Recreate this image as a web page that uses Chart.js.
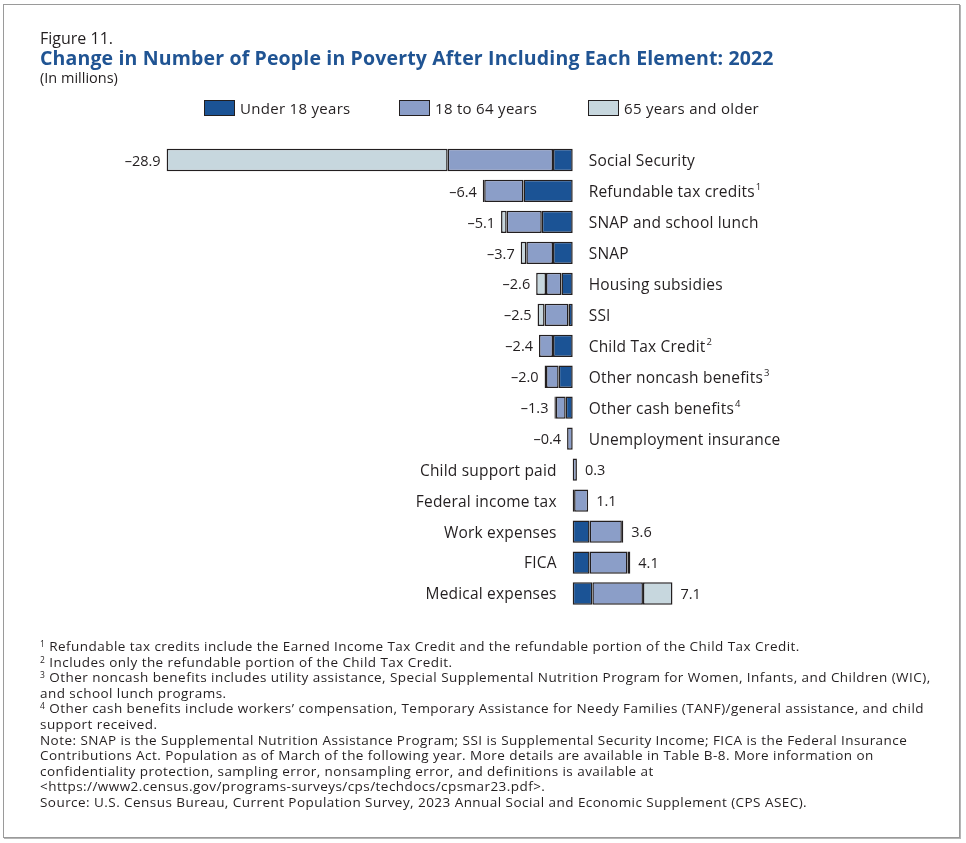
<!DOCTYPE html>
<html>
<head>
<meta charset="utf-8">
<script src="https://cdn.jsdelivr.net/npm/chart.js@4.4.1/dist/chart.umd.min.js"></script>
<style>
  html, body { margin: 0; padding: 0; background: #fff; }
  body { width: 966px; height: 843px; position: relative; overflow: hidden; font-family: "Open Sans", "Noto Sans", sans-serif; color: #231f20; }
  #frame { position: absolute; left: 3px; top: 4px; width: 957px; height: 834px; border: 1px solid #9a9a9a; box-shadow: 1px 1px 0 #b5b5b5; box-sizing: border-box; }
  #chart { position: absolute; left: 0; top: 0; }
  .t { position: absolute; white-space: nowrap; }
  #fig { left: 40px; top: 28px; font-size: 16px; line-height: 20px; }
  #title { left: 40px; top: 47px; font-size: 19.5px; line-height: 22px; font-weight: bold; color: #205493; letter-spacing: 0.15px; }
  #units { left: 40px; top: 69px; font-size: 14.5px; line-height: 18px; }
  #legend { position: absolute; left: 0; top: 100px; height: 16px; }
  .lg { position: absolute; top: 0; font-size: 15px; line-height: 16px; white-space: nowrap; letter-spacing: 0.3px; }
  .lg span.box { position: absolute; left: 0; top: 0; width: 29px; height: 14px; border: 1px solid #231f20; box-sizing: content-box; }
  .lg span.txt { position: absolute; left: 36px; top: 0; }
  #notes { position: absolute; left: 40px; top: 639px; width: 920px; font-size: 13.5px; line-height: 15.6px; letter-spacing: 0.45px; }
  #notes sup { font-size: 8.5px; vertical-align: 4px; line-height: 0; }
</style>
</head>
<body>
<div id="frame"></div>
<canvas id="chart" width="966" height="843"></canvas>
<div class="t" id="fig">Figure 11.</div>
<div class="t" id="title">Change in Number of People in Poverty After Including Each Element: 2022</div>
<div class="t" id="units">(In millions)</div>
<div id="legend"></div>
<div id="notes">
<div><sup>1</sup> Refundable tax credits include the Earned Income Tax Credit and the refundable portion of the Child Tax Credit.</div>
<div><sup>2</sup> Includes only the refundable portion of the Child Tax Credit.</div>
<div><sup>3</sup> Other noncash benefits includes utility assistance, Special Supplemental Nutrition Program for Women, Infants, and Children (WIC),<br>and school lunch programs.</div>
<div><sup>4</sup> Other cash benefits include workers’ compensation, Temporary Assistance for Needy Families (TANF)/general assistance, and child<br>support received.</div>
<div>Note: SNAP is the Supplemental Nutrition Assistance Program; SSI is Supplemental Security Income; FICA is the Federal Insurance<br>Contributions Act. Population as of March of the following year. More details are available in Table B-8. More information on<br>confidentiality protection, sampling error, nonsampling error, and definitions is available at<br>&lt;https://www2.census.gov/programs-surveys/cps/techdocs/cpsmar23.pdf&gt;.</div>
<div>Source: U.S. Census Bureau, Current Population Survey, 2023 Annual Social and Economic Supplement (CPS ASEC).</div>
</div>
<script>
// ---- Data (millions) ----
const categories = ["Social Security", "Refundable tax credits", "SNAP and school lunch", "SNAP", "Housing subsidies", "SSI", "Child Tax Credit", "Other noncash benefits", "Other cash benefits", "Unemployment insurance", "Child support paid", "Federal income tax", "Work expenses", "FICA", "Medical expenses"];
const noteMarks = ["", "1", "", "", "", "", "2", "3", "4", "", "", "", "", "", ""];
const totals = [-28.9, -6.4, -5.1, -3.7, -2.6, -2.5, -2.4, -2.0, -1.3, -0.4, 0.3, 1.1, 3.6, 4.1, 7.1];
const under18 = [-1.4, -3.5, -2.2, -1.4, -0.8, -0.3, -1.4, -1.0, -0.5, 0, 0, 0.1, 1.2, 1.2, 1.4];
const age18to64 = [-7.5, -2.8, -2.5, -1.9, -1.1, -1.7, -1.0, -0.9, -0.7, -0.4, 0.3, 1.0, 2.3, 2.7, 3.6];
const age65plus = [-20.0, -0.1, -0.4, -0.4, -0.7, -0.5, 0, -0.1, -0.1, 0, 0, 0, 0.1, 0.2, 2.1];
const seriesNames = ["Under 18 years", "18 to 64 years", "65 years and older"];
const seriesColors = ["#1b5395", "#8b9ec8", "#c7d7de"];

const FONT = '"Open Sans", "Noto Sans", sans-serif';

// ---- Legend (HTML) ----
const legendX = [204, 399, 588];
const legend = document.getElementById('legend');
seriesNames.forEach((n, i) => {
  const d = document.createElement('div');
  d.className = 'lg';
  d.style.left = legendX[i] + 'px';
  d.innerHTML = '<span class="box" style="background:' + seriesColors[i] + '"></span><span class="txt">' + n + '</span>';
  legend.appendChild(d);
});

const labelPlugin = {
  id: 'rowLabels',
  afterDatasetsDraw(chart) {
    const ctx = chart.ctx;
    const xs = chart.scales.x, ys = chart.scales.y;
    const zero = xs.getPixelForValue(0);
    ctx.save();
    ctx.fillStyle = '#231f20';
    ctx.textBaseline = 'middle';
    categories.forEach((cat, i) => {
      const yc = ys.getPixelForValue(i) + 1.5;
      let neg = 0, pos = 0;
      [under18, age18to64, age65plus].forEach(s => { if (s[i] < 0) neg += s[i]; else pos += s[i]; });
      const t = totals[i];
      const valTxt = (t < 0 ? '\u2013' : '') + Math.abs(t).toFixed(1);
      ctx.letterSpacing = '0.2px';
      ctx.font = '15.5px ' + FONT;
      let catX, catW = ctx.measureText(cat).width;
      let noteW = 0;
      ctx.letterSpacing = '0px';
      if (noteMarks[i]) { ctx.font = '9.5px ' + FONT; noteW = ctx.measureText(noteMarks[i]).width + 1; }
      ctx.font = '14.5px ' + FONT;
      if (t < 0) {
        catX = zero + 16;
        const endPx = xs.getPixelForValue(neg);
        ctx.textAlign = 'right';
        ctx.fillText(valTxt, endPx - 6, yc);
      } else {
        catX = zero - 16 - catW - noteW;
        const endPx = xs.getPixelForValue(pos);
        ctx.textAlign = 'left';
        ctx.fillText(valTxt, endPx + 8, yc);
      }
      ctx.textAlign = 'left';
      ctx.letterSpacing = '0.2px';
      ctx.font = '15.5px ' + FONT;
      ctx.fillText(cat, catX, yc);
      ctx.letterSpacing = '0px';
      if (noteMarks[i]) {
        ctx.font = '9.5px ' + FONT;
        ctx.fillText(noteMarks[i], catX + catW + 1, yc - 5);
      }
    });
    ctx.restore();
  }
};

new Chart(document.getElementById('chart'), {
  type: 'bar',
  data: {
    labels: categories,
    datasets: [under18, age18to64, age65plus].map((d, i) => ({
      label: seriesNames[i],
      data: d,
      backgroundColor: seriesColors[i],
      borderColor: '#231f20',
      borderWidth: 1.5,
      borderSkipped: false,
      barPercentage: 0.72,
      categoryPercentage: 1.0
    }))
  },
  options: {
    indexAxis: 'y',
    responsive: false,
    animation: false,
    layout: { padding: { left: 151.2, right: 252.8, top: 144.5, bottom: 234 } },
    scales: {
      x: { stacked: true, min: -30, max: 10, display: false },
      y: { stacked: true, display: false }
    },
    plugins: { legend: { display: false }, tooltip: { enabled: false } }
  },
  plugins: [labelPlugin]
});
</script>
</body>
</html>
